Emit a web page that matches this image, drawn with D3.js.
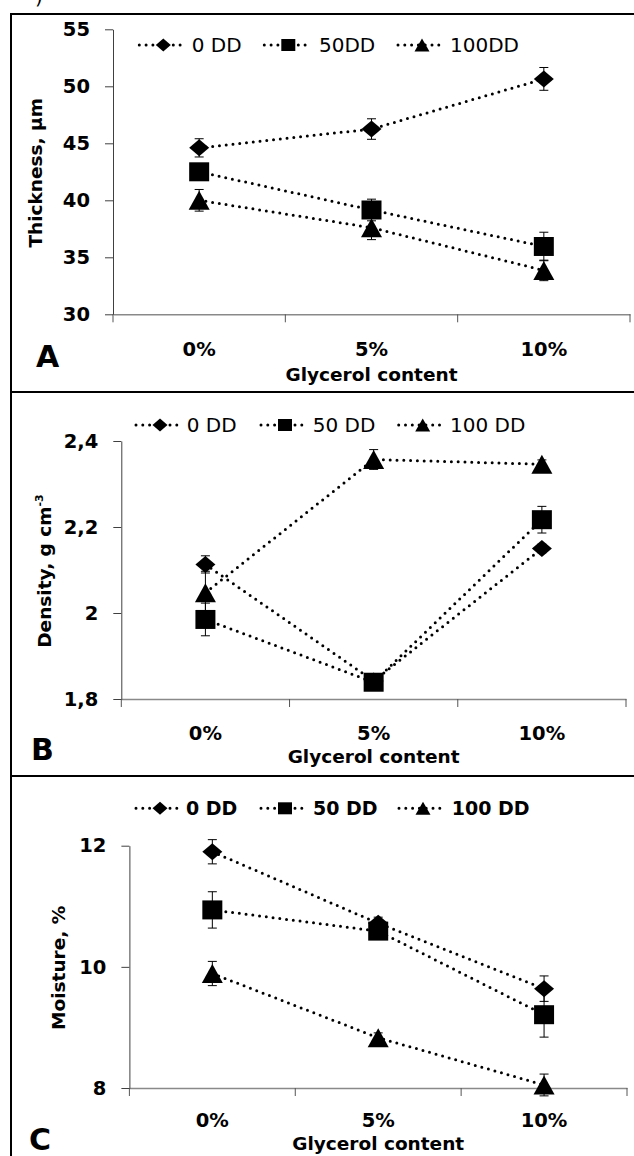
<!DOCTYPE html>
<html><head><meta charset="utf-8">
<script src="https://cdn.jsdelivr.net/npm/d3@7"></script>
<style>body{margin:0;background:#fff} svg{display:block}</style>
</head><body>
<script>
// ---------- data ----------
const categories = ["0%", "5%", "10%"];
const legendA = ["0 DD", "50DD", "100DD"];
const legendBC = ["0 DD", "50 DD", "100 DD"];

const thickness0DD = [44.6, 46.25, 50.65];
const thickness0DDErr = [0.8, 0.9, 1.0];
const thickness50DD = [42.5, 39.15, 35.95];
const thickness50DDErr = [0.6, 0.95, 1.25];
const thickness100DD = [40.0, 37.6, 33.85];
const thickness100DDErr = [0.95, 1.05, 0.9];

const density0DD = [2.113, 1.842, 2.15];
const density0DDErr = [0.02, 0.01, 0.01];
const density50DD = [1.985, 1.839, 2.217];
const density50DDErr = [0.038, 0.01, 0.031];
const density100DD = [2.047, 2.357, 2.346];
const density100DDErr = [0.05, 0.023, 0.01];

const moisture0DD = [11.9, 10.72, 9.64];
const moisture0DDErr = [0.2, 0.1, 0.21];
const moisture50DD = [10.94, 10.59, 9.21];
const moisture50DDErr = [0.3, 0.1, 0.37];
const moisture100DD = [9.89, 8.83, 8.05];
const moisture100DDErr = [0.2, 0.08, 0.18];

const thicknessTicks = [30, 35, 40, 45, 50, 55];
const thicknessTickLabels = ["30", "35", "40", "45", "50", "55"];
const densityTicks = [1.8, 2.0, 2.2, 2.4];
const densityTickLabels = ["1,8", "2", "2,2", "2,4"];
const moistureTicks = [8, 10, 12];
const moistureTickLabels = ["8", "10", "12"];

const markerShapes = ["diamond", "square", "triangle"];

// ---------- layout ----------
const W = 634, H = 1156;
const BOLD = "'DejaVu Sans', sans-serif";

const panels = [
  {
    letter: "A", title: ["Thickness, µm"], legend: legendA, legendBold: false,
    values: [thickness0DD, thickness50DD, thickness100DD],
    errors: [thickness0DDErr, thickness50DDErr, thickness100DDErr],
    ticks: thicknessTicks, tickLabels: thicknessTickLabels, domain: [30, 55],
    xr: [113, 630], yr: [314.3, 29.3], xPad: 28,
    legendY: 45, legendMarkX: [163.3, 288.3, 422], legendTextX: [191.7, 319, 450],
    titleX: 42, xTitleBaseline: 381, letterX: 36, letterY: 366.5
  },
  {
    letter: "B", title: ["Density, g cm", "-3"], legend: legendBC, legendBold: false,
    values: [density0DD, density50DD, density100DD],
    errors: [density0DDErr, density50DDErr, density100DDErr],
    ticks: densityTicks, tickLabels: densityTickLabels, domain: [1.8, 2.4],
    xr: [121.3, 626], yr: [699, 441], xPad: 27,
    legendY: 425, legendMarkX: [160, 285, 422.7], legendTextX: [186.7, 312.7, 450],
    titleX: 51, xTitleBaseline: 763, letterX: 31, letterY: 760
  },
  {
    letter: "C", title: ["Moisture, %"], legend: legendBC, legendBold: true,
    values: [moisture0DD, moisture50DD, moisture100DD],
    errors: [moisture0DDErr, moisture50DDErr, moisture100DDErr],
    ticks: moistureTicks, tickLabels: moistureTickLabels, domain: [8, 12],
    xr: [129.4, 627], yr: [1088, 845.7], xPad: 25,
    legendY: 808.3, legendMarkX: [160, 285, 423], legendTextX: [186, 313, 451.7],
    titleX: 64.5, xTitleBaseline: 1150, letterX: 29, letterY: 1150
  }
];

const svg = d3.select("body").append("svg").attr("width", W).attr("height", H)
  .style("font-family", BOLD);

function markerPath(shape, w, h) {
  if (shape === "diamond") return `M0,${-h/2}L${w/2},0L0,${h/2}L${-w/2},0Z`;
  if (shape === "square") return `M${-w/2},${-h/2}H${w/2}V${h/2}H${-w/2}Z`;
  return `M0,${-h/2}L${w/2},${h/2}L${-w/2},${h/2}Z`;
}
const plotSize = { diamond: [20, 17], square: [20, 19], triangle: [21, 19] };
const legendSize = { diamond: [15, 13], square: [14, 12], triangle: [15, 13] };

// top-left fragment of a cropped caption (cut off in the reference too)
svg.append("text").attr("x", 35).attr("y", 4).attr("font-size", 20)
  .attr("font-family", "'DejaVu Sans', sans-serif").text(")");

// frames
const frame = svg.append("g").attr("stroke", "#000").attr("stroke-width", 2);
frame.append("line").attr("x1", 11).attr("x2", W).attr("y1", 14).attr("y2", 14);
frame.append("line").attr("x1", 11).attr("x2", 11).attr("y1", 13).attr("y2", H);
frame.append("line").attr("x1", 11).attr("x2", W).attr("y1", 392).attr("y2", 392);
frame.append("line").attr("x1", 11).attr("x2", W).attr("y1", 776).attr("y2", 776);

panels.forEach(p => {
  const g = svg.append("g");
  const x = d3.scaleBand().domain(categories).range(p.xr).paddingInner(0).paddingOuter(0);
  const y = d3.scaleLinear().domain(p.domain).range(p.yr);
  const cx = c => x(c) + x.bandwidth() / 2;

  const xa = g.append("g").attr("transform", `translate(0,${p.yr[0]})`)
    .call(d3.axisBottom(x).tickSize(0).tickPadding(p.xPad));
  xa.select(".domain").attr("stroke", "#898989").attr("stroke-width", 1.4);
  xa.selectAll("text").attr("font-size", 19.5).attr("font-weight", "bold")
    .attr("font-family", BOLD).attr("fill", "#000");
  const bounds = [p.xr[0]].concat(categories.map(c => x(c) + x.bandwidth()));
  g.append("g").selectAll("line").data(bounds).join("line")
    .attr("x1", d => d).attr("x2", d => d)
    .attr("y1", p.yr[0]).attr("y2", p.yr[0] + 8)
    .attr("stroke", "#555").attr("stroke-width", 1);

  const ya = g.append("g").attr("transform", `translate(${p.xr[0]},0)`)
    .call(d3.axisLeft(y).tickValues(p.ticks).tickFormat((d, i) => p.tickLabels[i])
      .tickSize(8).tickSizeOuter(0).tickPadding(15));
  ya.select(".domain").attr("stroke", "#404040").attr("stroke-width", 1);
  ya.selectAll(".tick line").attr("stroke", "#404040");
  ya.selectAll("text").attr("font-size", 19.5).attr("font-weight", "bold")
    .attr("font-family", BOLD).attr("fill", "#000");

  const yt = g.append("text")
    .attr("transform", `translate(${p.titleX},${(p.yr[0] + p.yr[1]) / 2 + 1}) rotate(-90)`)
    .attr("text-anchor", "middle").attr("font-size", 18.5).attr("font-weight", "bold");
  yt.append("tspan").text(p.title[0]);
  if (p.title[1]) yt.append("tspan").attr("font-size", 11).attr("dy", -8).text(p.title[1]);

  g.append("text").attr("x", (p.xr[0] + p.xr[1]) / 2).attr("y", p.xTitleBaseline)
    .attr("text-anchor", "middle").attr("font-size", 18.5).attr("font-weight", "bold")
    .text("Glycerol content");

  g.append("text").attr("x", p.letterX).attr("y", p.letterY)
    .attr("font-size", 30).attr("font-weight", "bold").text(p.letter);

  const line = d3.line().x((d, i) => cx(categories[i])).y(d => y(d));
  p.values.forEach(vals => {
    g.append("path").attr("d", line(vals)).attr("fill", "none")
      .attr("stroke", "#000").attr("stroke-width", 3)
      .attr("stroke-linecap", "round").attr("stroke-dasharray", "0 6.8");
  });

  p.values.forEach((vals, s) => {
    const eb = g.append("g").attr("stroke", "#000").attr("stroke-width", 1);
    vals.forEach((v, i) => {
      const e = p.errors[s][i];
      const xx = cx(categories[i]);
      eb.append("line").attr("x1", xx).attr("x2", xx).attr("y1", y(v + e)).attr("y2", y(v - e));
      [v + e, v - e].forEach(t => eb.append("line")
        .attr("x1", xx - 4.5).attr("x2", xx + 4.5).attr("y1", y(t)).attr("y2", y(t)));
    });
  });

  p.values.forEach((vals, s) => {
    const shape = markerShapes[s];
    const [mw, mh] = plotSize[shape];
    g.append("g").selectAll("path").data(vals).join("path")
      .attr("transform", (d, i) => `translate(${cx(categories[i])},${y(d)})`)
      .attr("d", markerPath(shape, mw, mh)).attr("fill", "#000");
  });

  const lg = g.append("g");
  p.legend.forEach((name, s) => {
    const mx = p.legendMarkX[s], my = p.legendY;
    lg.append("line").attr("x1", mx - 24).attr("x2", mx + 22).attr("y1", my).attr("y2", my)
      .attr("stroke", "#000").attr("stroke-width", 3).attr("stroke-linecap", "round")
      .attr("stroke-dasharray", "0 6.8");
    const shape = markerShapes[s];
    const [lw, lh] = legendSize[shape];
    lg.append("path").attr("transform", `translate(${mx},${my})`)
      .attr("d", markerPath(shape, lw, lh)).attr("fill", "#000");
    lg.append("text").attr("x", p.legendTextX[s]).attr("y", my + 7)
      .attr("font-size", p.legendBold ? 19 : 20)
      .attr("font-weight", p.legendBold ? "bold" : "normal")
      .attr("font-family", "'DejaVu Sans', sans-serif")
      .text(name);
  });
});
</script>
</body></html>
